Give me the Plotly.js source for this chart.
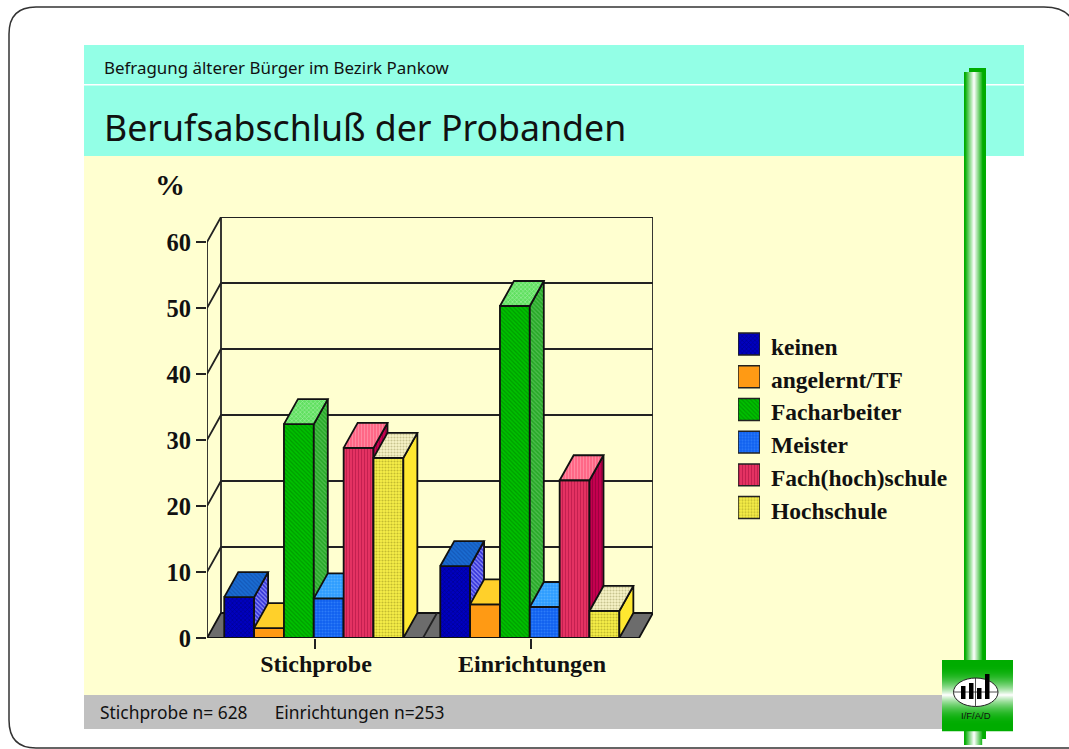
<!DOCTYPE html>
<html><head><meta charset="utf-8">
<script src="https://cdn.plot.ly/plotly-3.0.1.min.js"></script>
<style>html,body{margin:0;padding:0;background:#fff}#c{width:1069px;height:749px}</style>
</head><body><div id="c"></div>
<script>
const categories = ["Stichprobe", "Einrichtungen"];
const seriesNames = ["keinen", "angelernt/TF", "Facharbeiter", "Meister", "Fach(hoch)schule", "Hochschule"];
const keinen = [6.2, 10.9];
const angelernt = [1.5, 5.1];
const facharbeiter = [32.4, 50.3];
const meister = [6.0, 4.7];
const fachhochschule = [28.8, 23.9];
const hochschule = [27.3, 4.1];
const yTicks = [0, 10, 20, 30, 40, 50, 60];
const chartTitle = "Berufsabschluß der Probanden";
const kicker = "Befragung älterer Bürger im Bezirk Pankow";
const footer = "Stichprobe n= 628 \u00a0\u00a0\u00a0\u00a0 Einrichtungen n=253";

const values = [keinen, angelernt, facharbeiter, meister, fachhochschule, hochschule];
const styles = [
 {front:'#0000c0',pf:'#000090',ps:'x',top:'#1a6cd2',tf:'#1458b8',tp:'\\',side:'#3434d8',sf:'#9090f8',sp:'\\'},
 {front:'#ff9a14',pf:'#ff9a14',ps:'',top:'#ffd02a',tf:'#ffd02a',tp:'',side:'#ffd02a',sf:'#ffd02a',sp:''},
 {front:'#00c000',pf:'#009c00',ps:'\\',top:'#60e060',tf:'#98ee98',tp:'x',side:'#28a828',sf:'#50c050',sp:'\\'},
 {front:'#1060f0',pf:'#2c7cf8',ps:'.',top:'#2c9cff',tf:'#50b0ff',tp:'.',side:'#2c9cff',sf:'#2c9cff',sp:''},
 {front:'#e83464',pf:'#c42050',ps:'|',top:'#ff6484',tf:'#ff88a0',tp:'|',side:'#c80050',sf:'#a00040',sp:'|'},
 {front:'#f8f048',pf:'#c4bc30',ps:'.',top:'#f8f4c8',tf:'#c8c490',tp:'.',side:'#ffe830',sf:'#ffe830',sp:''}
];

const W = 1069, H = 749;
const PX = p => p / W, PY = p => 1 - p / H;
const serif = '"Liberation Serif", serif';
const sans = '"Noto Sans", sans-serif';

// depth of the oblique projection in data units
const pxPerCat = 216, pxPerUnit = 6.6;
const dx = 14 / pxPerCat, dy = 25 / pxPerUnit;
const barW = 29.85 / pxPerCat, shift = -1.2 / pxPerCat;
const xMin = -0.5, xMax = 1.5;

const traces = [];
function poly(xs, ys, fill, z, pat, lw) {
  const t = {type:'scatter', mode:'lines', x:[...xs, xs[0]], y:[...ys, ys[0]], fill:'toself', fillcolor:fill,
    line:{color:'#111', width: lw === undefined ? 1.8 : lw}, hoverinfo:'skip', showlegend:false, zorder:z, cliponaxis:false};
  if (pat && pat.shape) t.fillpattern = pat;
  traces.push(t);
}
function line(xs, ys, w, c) {
  traces.push({type:'scatter', mode:'lines', x:xs, y:ys, line:{color:c||'#222', width:w||1.8}, hoverinfo:'skip', showlegend:false, zorder:0, cliponaxis:false});
}
// floor
poly([xMin, xMax, xMax+dx, xMin+dx], [0, 0, dy, dy], '#6c6c6c', 0);
line([0.5, 0.5+dx], [0, dy]);
// back wall grid
yTicks.slice(1).forEach(t => {
  line([xMin, xMin+dx, xMax+dx], [t, t+dy, t+dy]);
});
line([xMin, xMin], [0, 60]);
line([xMin+dx, xMin+dx], [dy, 60+dy]);
line([xMax+dx, xMax+dx], [dy, 60+dy]);

// bars, painted from left to right
values.forEach((vals, i) => {
  const s = styles[i], z = i + 1;
  const xs = categories.map((_, c) => c + shift + (i - 2.5) * barW);
  traces.push({type:'bar', name:seriesNames[i], x:xs, y:vals, width:barW, zorder:z, showlegend:false, cliponaxis:false,
    marker:{color:s.front, line:{color:'#111', width:1.8}, pattern:{shape:s.ps, fgcolor:s.pf, bgcolor:s.front, size:3, solidity:0.4}}});
  vals.forEach((v, c) => {
    const x0 = xs[c] - barW/2, x1 = xs[c] + barW/2;
    poly([x1, x1+dx, x1+dx, x1], [0, dy, v+dy, v], s.side, z, {shape:s.sp, fgcolor:s.sf, bgcolor:s.side, size:3, solidity:0.4});
    poly([x0, x1, x1+dx, x0+dx], [v, v, v+dy, v+dy], s.top, z, {shape:s.tp, fgcolor:s.tf, bgcolor:s.top, size:3, solidity:0.4});
  });
});

// legend swatches and their labels
const annotations = [];
seriesNames.forEach((n, i) => {
  const s = styles[i];
  traces.push({type:'bar', x:[0], y:[0.67], base:[i+0.165], width:[1], xaxis:'x2', yaxis:'y2', showlegend:false, hoverinfo:'skip', cliponaxis:false,
    marker:{color:s.front, line:{color:'#222', width:1.5}, pattern:{shape:s.ps, fgcolor:s.pf, bgcolor:s.front, size:3, solidity:0.4}}});
  annotations.push({xref:'x2', yref:'y2', x:0.5, y:i+0.5, xshift:9, yshift:-3, xanchor:'left', yanchor:'middle', showarrow:false, text:'<b>'+n+'</b>',
    font:{family:serif, size:23.5, color:'#111'}});
});

const txt = (x, y, text, size, family, anchor, extra) => Object.assign({xref:'paper', yref:'paper', x:PX(x), y:PY(y), text, showarrow:false,
  xanchor:anchor||'left', yanchor:'middle', font:{family, size, color:'#111'}}, extra||{});
annotations.push(txt(102, 68, kicker, 16.9, sans));
annotations.push(txt(102, 127, chartTitle, 35.7, sans));
annotations.push(txt(98, 712, footer, 17.4, sans));
annotations.push(txt(170, 185, '<b>%</b>', 30, serif, 'center'));
annotations.push(txt(975.5, 715, 'I/F/A/D', 9.5, '"Liberation Sans", sans-serif', 'center'));

// page decoration
const rect = (x0, y0, x1, y1, color, layer) => ({type:'rect', xref:'paper', yref:'paper', x0:PX(x0), x1:PX(x1), y0:PY(y0), y1:PY(y1), fillcolor:color, line:{width:0}, layer:layer||'below'});
const shapes = [];
const p = (x, y) => PX(x).toFixed(5) + ',' + PY(y).toFixed(5);
shapes.push({type:'path', xref:'paper', yref:'paper', layer:'below', line:{color:'#333', width:1.5},
  path:`M${p(9,34)} Q${p(9,7)} ${p(36,7)} L${p(1044,7)} Q${p(1068,7)} ${p(1074,24)} M${p(9,34)} L${p(9,720)} Q${p(9,748)} ${p(36,748)} L${p(1069,748)}`});
shapes.push(rect(84, 156, 964, 695, '#ffffd0'));
shapes.push(rect(84, 45, 1024, 156, '#93ffe6'));
shapes.push(rect(84, 84, 1024, 85.5, '#ffffff'));
shapes.push(rect(84, 695, 942, 729, '#c0c0c0'));
// pillar
const mix = t => { const a=[0,172,0], b=[255,255,255]; return 'rgb('+a.map((v,k)=>Math.round(v+(b[k]-v)*t)).join(',')+')'; };
shapes.push(rect(969, 68, 986, 739, '#00ac00'));
for (let x = 964; x < 982; x++) {
  const t = Math.max(0, 1 - Math.abs(x + 0.5 - 974) / 9);
  shapes.push(rect(x, 72, x + 1.2, 745, mix(t)));
}
// logo
for (let y = 660; y < 731; y++) {
  const t = Math.max(0, 1 - Math.abs(y + 0.5 - 695) / 30);
  shapes.push(rect(942, y, 1013, y + 1.2, mix(t*t)));
}
const ell = {type:'circle', xref:'paper', yref:'paper', x0:PX(953.5), x1:PX(998), y0:PY(706.5), y1:PY(678), fillcolor:'#fff', line:{color:'#222', width:1}, layer:'below'};
shapes.push(ell);
shapes.push({type:'line', xref:'paper', yref:'paper', x0:PX(954), x1:PX(998), y0:PY(692), y1:PY(692), line:{color:'#222', width:0.8}, layer:'below'});
shapes.push({type:'line', xref:'paper', yref:'paper', x0:PX(975.5), x1:PX(975.5), y0:PY(678), y1:PY(706), line:{color:'#222', width:0.8}, layer:'below'});
[[961,686],[969,683],[977,688],[985,674]].forEach(b => shapes.push(rect(b[0], b[1], b[0]+4.5, 699, '#000')));

const layout = {
  width:W, height:H, margin:{l:0,r:0,t:0,b:0}, paper_bgcolor:'#fff', plot_bgcolor:'rgba(0,0,0,0)', showlegend:false,
  barmode:'overlay',
  xaxis:{domain:[PX(207), PX(653)], range:[xMin, xMax+dx], tickmode:'array', tickvals:categories.map((_,i)=>i),
    ticktext:categories.map(c=>'<b>'+c+'</b>'), ticks:'outside', ticklen:10, tickwidth:1.5, tickcolor:'#222',
    ticklabelstandoff:-6, ticklabelshift:1,
    tickfont:{family:serif, size:24, color:'#111'}, showgrid:false, zeroline:false, showline:false, fixedrange:true},
  yaxis:{domain:[PY(638), PY(217)], range:[0, 60+dy], tickmode:'array', tickvals:yTicks, ticktext:yTicks.map(t=>'<b>'+t+'</b>'),
    ticks:'outside', ticklen:10, tickwidth:1.5, tickcolor:'#222', tickfont:{family:serif, size:24.5, color:'#111'},
    showgrid:false, zeroline:false, showline:false, fixedrange:true},
  xaxis2:{domain:[PX(738), PX(760)], range:[-0.5,0.5], visible:false, anchor:'y2', fixedrange:true},
  yaxis2:{domain:[PY(523.9), PY(327.7)], range:[6,0], visible:false, anchor:'x2', fixedrange:true},
  shapes, annotations
};
Plotly.newPlot('c', traces, layout, {displayModeBar:false, staticPlot:true});
</script></body></html>
